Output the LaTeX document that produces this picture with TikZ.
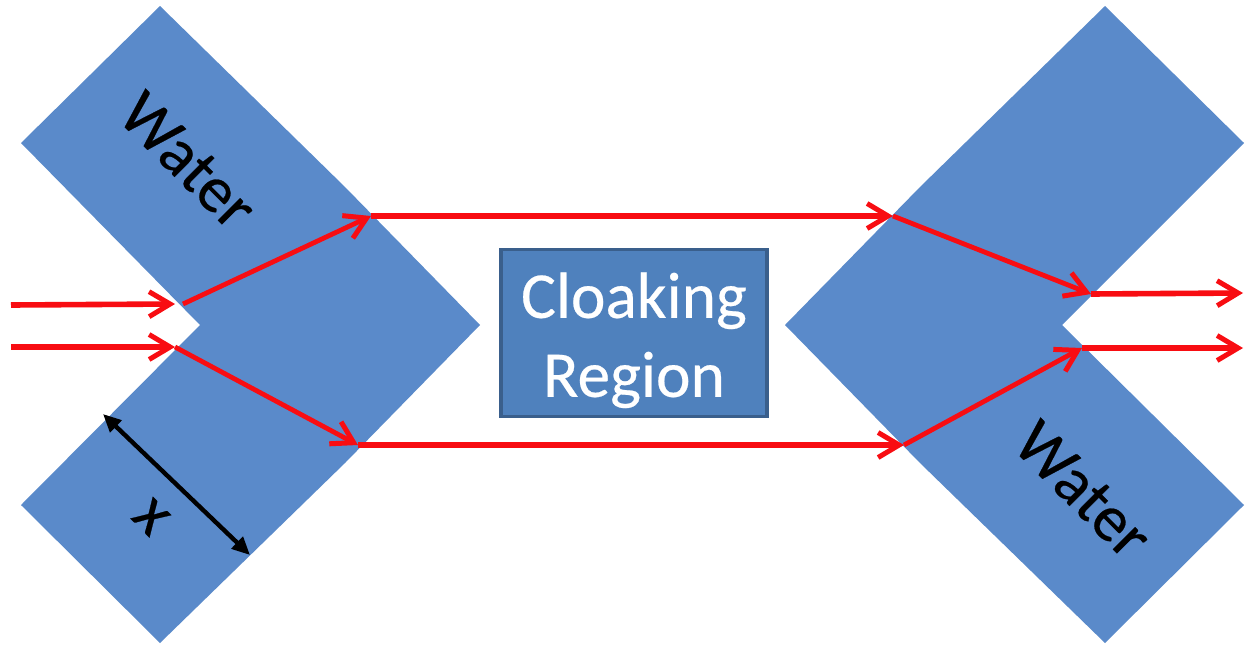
\documentclass[tikz,border=0pt]{standalone}
\usepackage{fontspec}
\setmainfont[FakeBold=0.35]{Carlito}
\usetikzlibrary{arrows.meta}
\definecolor{waterblue}{HTML}{5A8ACA}
\definecolor{boxfill}{HTML}{4F81BD}
\definecolor{boxline}{HTML}{3A5F8C}
\definecolor{ray}{HTML}{F80D12}
\tikzset{
  water/.style={fill=waterblue,draw=none},
  ray/.style={draw=ray,line width=4.8pt,-{Straight Barb[length=21pt,width=25pt,line width=5pt]}},
  rayflat/.style={ray,line width=5.6pt},
  dim/.style={draw=black,line width=4.4pt,{Triangle[length=18pt,width=16pt]}-{Triangle[length=18pt,width=16pt]}},
  lbl/.style={font=\fontsize{65.5}{65.5}\selectfont,text=black,inner sep=0pt}
}
\begin{document}
\begin{tikzpicture}[x=1pt,y=-1pt]
\useasboundingbox (0,0) rectangle (1250,651);
\fill[white] (0,0) rectangle (1250,651);
\fill[water] (160,6) -- (21,143) -- (200,325) -- (21,505) -- (160,643) -- (345,463) -- (480,325) -- (345,187) -- cycle;
\fill[water] (1105,6) -- (1244,143) -- (1062,325) -- (1244,505) -- (1105,643) -- (920,463) -- (785,325) -- (920,187) -- cycle;
\node[lbl,rotate=-45] (w1) at (188,161) {Water};
\node[lbl,rotate=-45] (w2) at (1083,490) {Water};
\node[lbl,rotate=-45] (xl) at (151,517) {x};
\node[draw=boxline,line width=3.4pt,fill=boxfill,minimum width=266pt,minimum height=167pt,inner sep=0pt,text=white,align=center,font=\fontsize{65.5}{79}\selectfont] (box) at (634,333) {\rule{0pt}{60pt}Cloaking\\Region};
\coordinate (a0) at (11,305);
\coordinate (a1) at (175,304);
\coordinate (a2) at (183,304);
\coordinate (a3) at (371,216);
\coordinate (a4) at (893,216);
\coordinate (a5) at (1091,294);
\coordinate (a6) at (1243,293);
\coordinate (b0) at (11,347);
\coordinate (b1) at (175,347);
\coordinate (b3) at (358,445);
\coordinate (b4) at (904,445);
\coordinate (b5) at (1082,348);
\coordinate (b6) at (1243,348);
\coordinate (d1) at (103,414);
\coordinate (d2) at (250,555);
\draw[rayflat] (a0) -- (a1);
\draw[ray] (a2) -- (a3);
\draw[rayflat] (a3) -- (a4);
\draw[ray] (a4) -- (a5);
\draw[rayflat] (a5) -- (a6);
\draw[rayflat] (b0) -- (b1);
\draw[ray] (b1) -- (b3);
\draw[rayflat] (b3) -- (b4);
\draw[ray] (b4) -- (b5);
\draw[rayflat] (b5) -- (b6);
\draw[dim] (d1) -- (d2);
\end{tikzpicture}
\end{document}
